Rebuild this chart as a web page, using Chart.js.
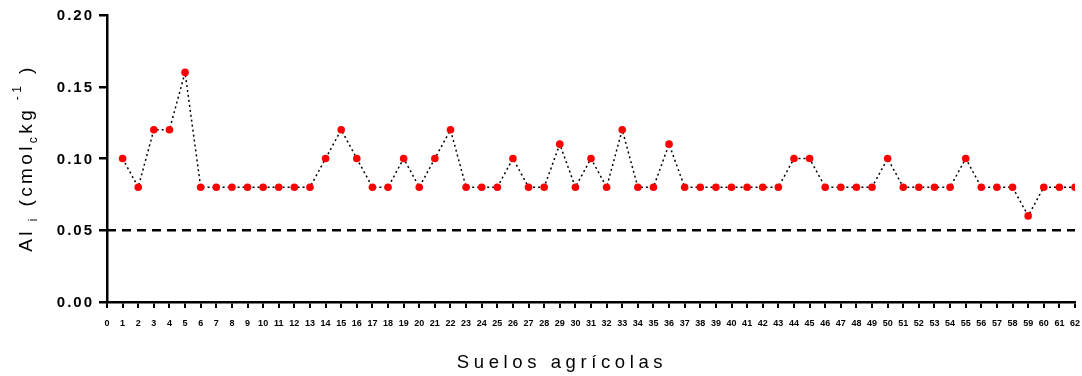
<!DOCTYPE html>
<html>
<head>
<meta charset="utf-8">
<script src="https://cdn.jsdelivr.net/npm/chart.js@4/dist/chart.umd.min.js"></script>
<style>
  html, body { margin: 0; padding: 0; background: #fff; }
  #wrap { width: 1082px; height: 376px; }
</style>
</head>
<body>
<div id="wrap"><canvas id="chart" width="1082" height="376"></canvas></div>
<script>
// Suelos agrícolas 1..62
const suelos = [];
for (let i = 1; i <= 62; i++) suelos.push(i);

const alValues = [
  0.10, 0.08, 0.12, 0.12, 0.16, 0.08, 0.08, 0.08, 0.08, 0.08,
  0.08, 0.08, 0.08, 0.10, 0.12, 0.10, 0.08, 0.08, 0.10, 0.08,
  0.10, 0.12, 0.08, 0.08, 0.08, 0.10, 0.08, 0.08, 0.11, 0.08,
  0.10, 0.08, 0.12, 0.08, 0.08, 0.11, 0.08, 0.08, 0.08, 0.08,
  0.08, 0.08, 0.08, 0.10, 0.10, 0.08, 0.08, 0.08, 0.08, 0.10,
  0.08, 0.08, 0.08, 0.08, 0.10, 0.08, 0.08, 0.08, 0.06, 0.08,
  0.08, 0.08
];

const limitX = [0, 62];
const limitY = [0.05, 0.05];
const yTicks = [0, 0.05, 0.10, 0.15, 0.20];

const points = suelos.map((s, i) => ({ x: s, y: alValues[i] }));
const limitLine = limitX.map((x, i) => ({ x: x, y: limitY[i] }));

const FONT = '"Liberation Sans", Arial, sans-serif';

// y tick labels (letter-spaced) and axis titles with sub/superscripts
const titlesPlugin = {
  id: 'titles',
  afterDraw(chart) {
    const ctx = chart.ctx;
    const yScale = chart.scales.y;
    ctx.save();
    ctx.fillStyle = '#000';

    ctx.letterSpacing = '2px';
    ctx.font = 'bold 15px ' + FONT;
    ctx.textAlign = 'right';
    ctx.textBaseline = 'middle';
    yTicks.forEach(v => {
      ctx.fillText(v.toFixed(2), 94, yScale.getPixelForValue(v) + 1);
    });

    ctx.letterSpacing = '4.6px';
    ctx.font = '18.5px ' + FONT;
    ctx.textAlign = 'center';
    ctx.textBaseline = 'alphabetic';
    ctx.fillText('Suelos agrícolas', 562, 368);

    // y title, rotated
    const parts = [
      { t: 'Al', size: 19, dy: 0 },
      { t: ' i', size: 12, dy: 5 },
      { t: ' (cmol', size: 19, dy: 0 },
      { t: 'c', size: 12, dy: 5 },
      { t: 'kg', size: 19, dy: 0 },
      { t: ' -1', size: 12, dy: -11 },
      { t: ' )', size: 19, dy: 0 }
    ];
    ctx.letterSpacing = '3.4px';
    let total = 0;
    parts.forEach(p => {
      ctx.font = p.size + 'px ' + FONT;
      p.w = ctx.measureText(p.t).width;
      total += p.w;
    });
    ctx.translate(32, 158);
    ctx.rotate(-Math.PI / 2);
    ctx.textAlign = 'left';
    let x = -total / 2;
    parts.forEach(p => {
      ctx.font = p.size + 'px ' + FONT;
      ctx.fillText(p.t, x, p.dy);
      x += p.w;
    });
    ctx.restore();
  }
};

new Chart(document.getElementById('chart'), {
  type: 'scatter',
  data: {
    datasets: [
      {
        data: points,
        showLine: true,
        borderColor: '#000',
        borderWidth: 1.5,
        borderDash: [2, 3],
        pointBackgroundColor: '#ff0000',
        pointBorderColor: '#ff0000',
        pointRadius: 3.8,
        pointBorderWidth: 0
      },
      {
        data: limitLine,
        showLine: true,
        borderColor: '#000',
        borderWidth: 2.4,
        borderDash: [9, 6],
        pointRadius: 0
      }
    ]
  },
  options: {
    responsive: false,
    animation: false,
    layout: { padding: { top: 15, right: 7, left: 0, bottom: 0 } },
    plugins: { legend: { display: false }, tooltip: { enabled: false } },
    scales: {
      x: {
        type: 'linear',
        min: 0,
        max: 62,
        afterFit(scale) {
          scale.height = 74;
          scale.paddingLeft = 0;
          scale.paddingRight = 0;
        },
        afterBuildTicks(scale) {
          scale.ticks = [0].concat(suelos).map(v => ({ value: v }));
        },
        border: { color: '#000', width: 2.5 },
        grid: { drawOnChartArea: false, color: '#000', tickColor: '#000', tickLength: 6, lineWidth: 2 },
        ticks: {
          autoSkip: false,
          maxRotation: 0,
          padding: 10,
          color: '#000',
          font: { family: FONT, size: 9, weight: 'bold' }
        }
      },
      y: {
        min: 0,
        max: 0.2,
        afterFit(scale) { scale.width = 107; },
        afterBuildTicks(scale) {
          scale.ticks = yTicks.map(v => ({ value: v }));
        },
        border: { color: '#000', width: 2.5 },
        grid: { drawOnChartArea: false, color: '#000', tickColor: '#000', tickLength: 8, lineWidth: 2.5 },
        ticks: { display: false }
      }
    }
  },
  plugins: [titlesPlugin]
});
</script>
</body>
</html>
